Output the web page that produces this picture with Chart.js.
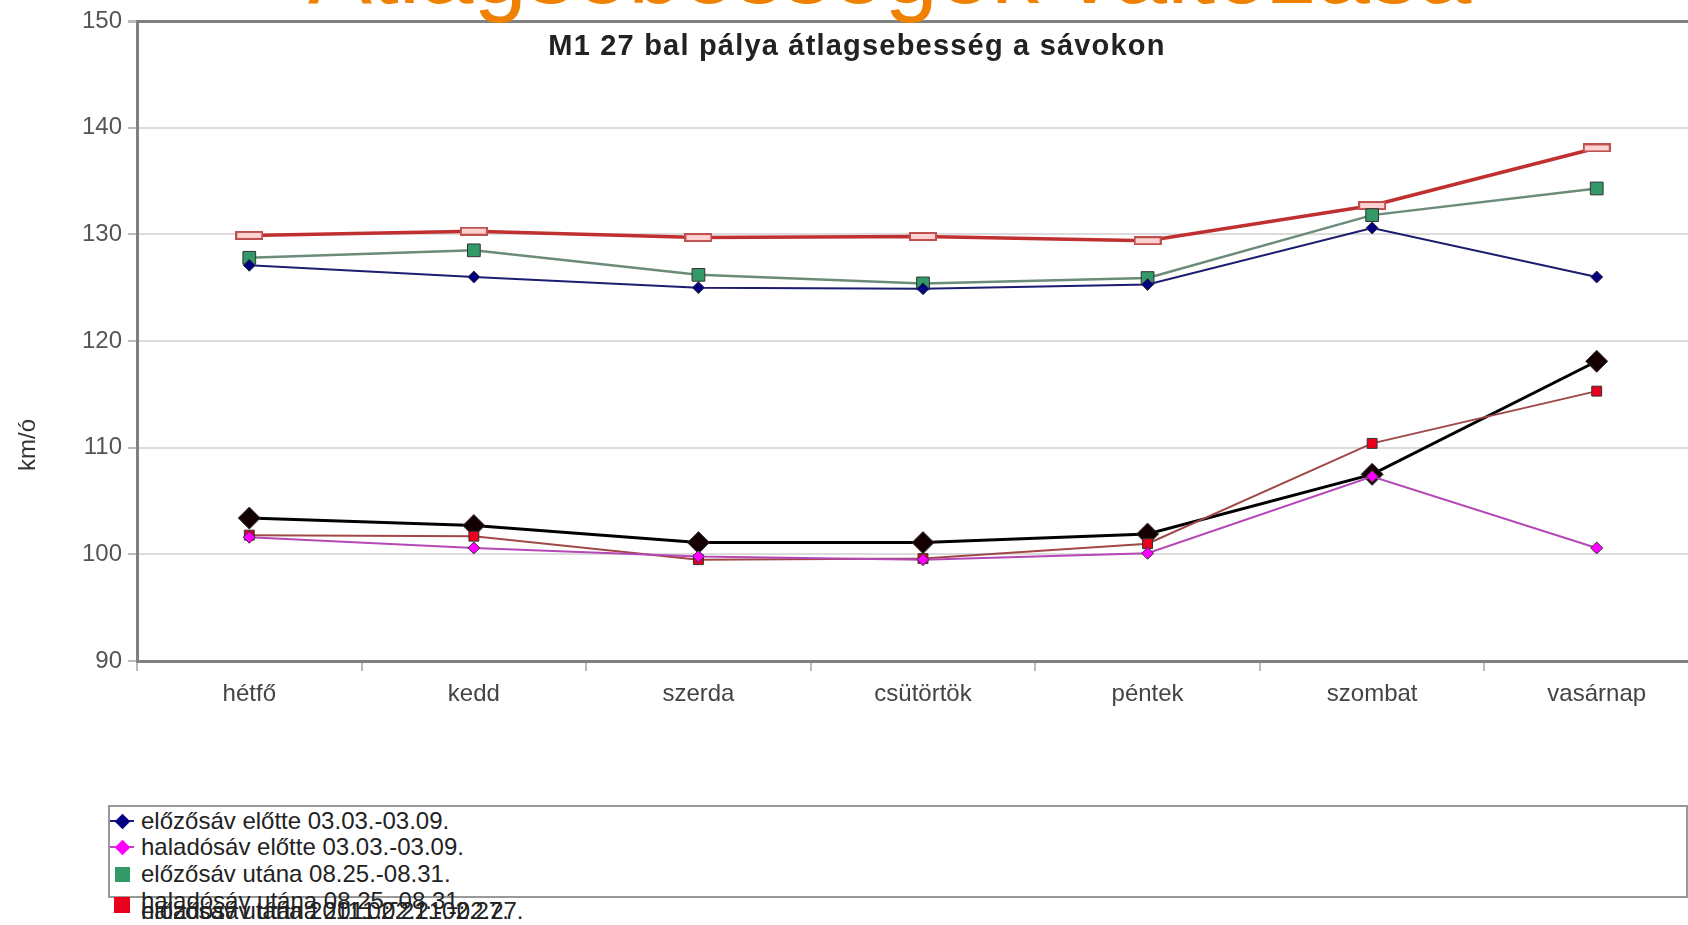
<!DOCTYPE html>
<html>
<head>
<meta charset="utf-8">
<script src="https://cdn.jsdelivr.net/npm/chart.js@4.4.0/dist/chart.umd.min.js"></script>
<style>
  body { margin: 0; width: 1688px; height: 925px; overflow: hidden; background: #fff; position: relative;
         font-family: "Liberation Sans", Arial, sans-serif; }
  #chart { position: absolute; left: 0; top: 0; }
  #slideTitle { position: absolute; left: 308px; top: -78px; font-size: 96px; line-height: 95px;
                color: #f08000; white-space: nowrap; z-index: 2; }
  #chartTitle { position: absolute; left: 457px; width: 800px; top: 29px; line-height: 32px; text-align: center;
                font-weight: bold; font-size: 29px; letter-spacing: 1.2px; color: #222; white-space: nowrap; }
  #yTitle { position: absolute; left: 27px; top: 445px; font-size: 24px; color: #333; white-space: nowrap;
            transform: translate(-50%, -50%) rotate(-90deg); }
  #legend { position: absolute; left: 108px; top: 805px; width: 1576px; height: 89px;
            border: 2px solid #999; }
  .row { position: absolute; left: 141px; height: 26px; line-height: 26px; font-size: 24px; color: #222;
         white-space: nowrap; }
  .mk { position: absolute; }
</style>
</head>
<body>
<canvas id="chart" width="1721" height="740"></canvas>
<div id="slideTitle">Átlagsebességek változása</div>
<div id="chartTitle">M1 27 bal pálya átlagsebesség a sávokon</div>
<div id="yTitle">km/ó</div>
<div id="legend"></div>
<div id="legendRows"></div>
<script>
const days = ["hétfő", "kedd", "szerda", "csütörtök", "péntek", "szombat", "vasárnap"];
const yTicks = [90, 100, 110, 120, 130, 140, 150];

const elozoElotte = [127.1, 126.0, 125.0, 124.9, 125.3, 130.6, 126.0];
const haladoElotte = [101.6, 100.6, 99.8, 99.5, 100.1, 107.3, 100.6];
const elozoUtana = [127.8, 128.5, 126.2, 125.4, 125.9, 131.8, 134.3];
const haladoUtana = [101.8, 101.7, 99.5, 99.6, 101.0, 110.4, 115.3];
const elozo2011 = [129.9, 130.3, 129.7, 129.8, 129.4, 132.7, 138.1];
const halado2011 = [103.4, 102.7, 101.1, 101.1, 101.9, 107.5, 118.1];

const seriesNames = [
  "előzősáv előtte 03.03.-03.09.",
  "haladósáv előtte 03.03.-03.09.",
  "előzősáv utána 08.25.-08.31.",
  "haladósáv utána 08.25.-08.31.",
  "előzősáv utána 2011.02.21.-02.27.",
  "haladósáv utána 2011.02.21.-02.27."
];

// flat pink marker used by the top red line
const flatMark = document.createElement('canvas');
flatMark.width = 28; flatMark.height = 9;
(function () {
  const c = flatMark.getContext('2d');
  c.fillStyle = '#ffd2d2';
  c.strokeStyle = '#c05050';
  c.lineWidth = 2;
  c.fillRect(1, 1, 26, 7);
  c.strokeRect(1, 1, 26, 7);
})();

const styles = [
  { line: '#1c1c70', width: 2, point: '#000080', shape: 'rectRot', r: 6 },
  { line: '#b548b5', width: 2, point: '#ff00ff', shape: 'rectRot', r: 6 },
  { line: '#6a8c78', width: 2.5, point: '#339966', shape: 'rect', r: 9 },
  { line: '#a04848', width: 2, point: '#e8001c', shape: 'rect', r: 7 },
  { line: '#c03030', width: 3.5, point: '#ffd2d2', shape: flatMark, r: 8 },
  { line: '#000000', width: 3, point: '#140000', shape: 'rectRot', r: 11 }
];
const allSeries = [elozoElotte, haladoElotte, elozoUtana, haladoUtana, elozo2011, halado2011];

const datasets = allSeries.map((data, i) => ({
  label: seriesNames[i],
  data: data,
  borderColor: styles[i].line,
  borderWidth: styles[i].width,
  backgroundColor: styles[i].point,
  pointBackgroundColor: styles[i].point,
  pointBorderColor: i === 4 ? '#c05050' : '#333',
  pointBorderWidth: 1,
  pointStyle: styles[i].shape,
  pointRadius: styles[i].r,
  tension: 0
}));

const tickFont = { size: 24, family: '"Liberation Sans", Arial' };

new Chart(document.getElementById('chart'), {
  type: 'line',
  data: { labels: days, datasets: datasets },
  options: {
    responsive: false,
    animation: false,
    layout: { padding: { top: 21, left: 0, right: 0, bottom: 0 } },
    scales: {
      x: {
        offset: true,
        grid: { offset: true, drawOnChartArea: false, drawTicks: true, tickLength: 10, color: '#bbb', lineWidth: 2 },
        border: { color: '#808080', width: 3 },
        ticks: { color: '#444', font: tickFont, padding: 9, maxRotation: 0 },
        afterFit: s => { s.height = 79; }
      },
      y: {
        min: 90, max: 150,
        afterBuildTicks: s => { s.ticks = yTicks.map(v => ({ value: v })); },
        grid: {
          color: c => c.tick && c.tick.value === 150 ? '#808080' : '#dcdcdc',
          lineWidth: c => c.tick && c.tick.value === 150 ? 3 : 2,
          tickColor: '#bbb',
          tickLength: 9
        },
        border: { color: '#808080', width: 3 },
        ticks: { color: '#555', font: tickFont, padding: 6 },
        afterFit: s => { s.width = 137; }
      }
    },
    plugins: { legend: { display: false }, tooltip: { enabled: false } }
  }
});

// legend built from the series names; the last rows overlap like in the original
const rowCenters = [821, 847, 874, 901, 911, 911];
const markCenters = [821, 847, 874, 905, 905, 905];
const rows = document.getElementById('legendRows');
seriesNames.forEach((name, i) => {
  const row = document.createElement('div');
  row.className = 'row';
  row.style.top = (rowCenters[i] - 13) + 'px';
  row.textContent = name;
  rows.appendChild(row);
});
for (let i = seriesNames.length - 1; i >= 0; i--) {
  const mk = document.createElement('div');
  mk.className = 'mk';
  const diamond = styles[i].shape === 'rectRot';
  const size = diamond ? 11 : (i === 3 ? 16 : 15);
  mk.style.width = size + 'px';
  mk.style.height = size + 'px';
  mk.style.left = (122 - size / 2) + 'px';
  mk.style.top = (markCenters[i] - size / 2) + 'px';
  mk.style.background = i === 4 ? '#e8001c' : styles[i].point;
  if (diamond) {
    mk.style.transform = 'rotate(45deg)';
    if (i < 3) {
      const ln = document.createElement('div');
      ln.className = 'mk';
      ln.style.left = '110px'; ln.style.width = '24px'; ln.style.height = '2px';
      ln.style.top = (markCenters[i] - 1) + 'px';
      ln.style.background = styles[i].line;
      rows.appendChild(ln);
    }
  }
  rows.appendChild(mk);
}
</script>
</body>
</html>
